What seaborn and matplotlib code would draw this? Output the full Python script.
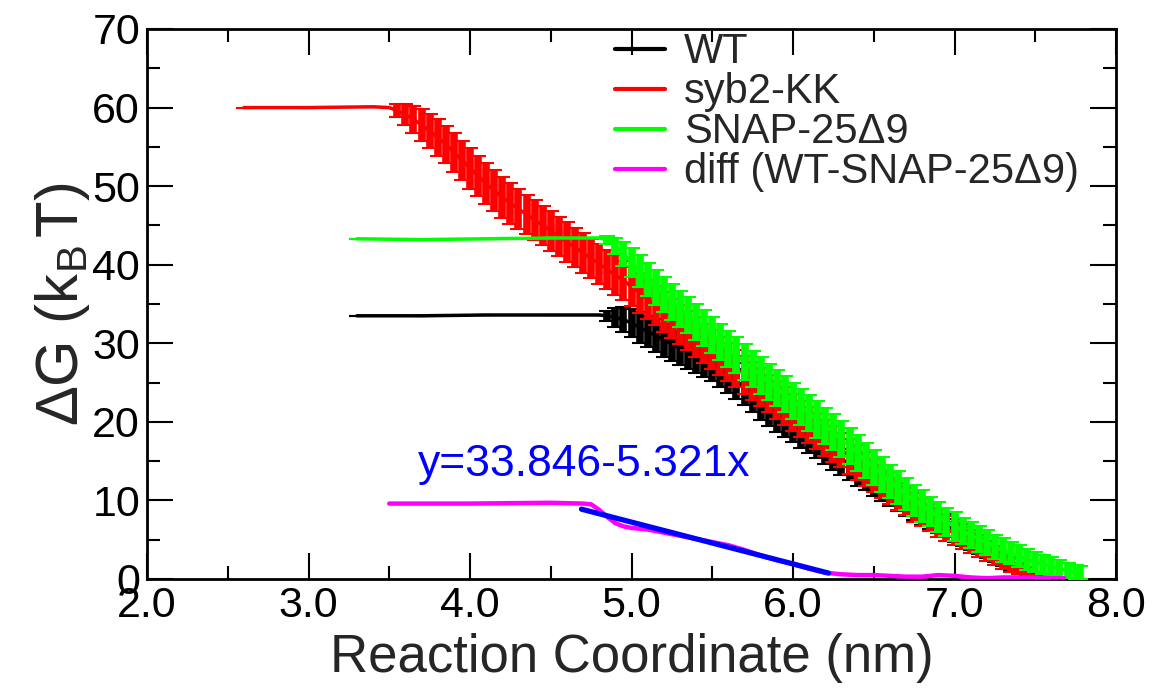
import matplotlib
matplotlib.use("Agg")
import matplotlib.pyplot as plt
import seaborn as sns
from matplotlib.ticker import MultipleLocator, FormatStrFormatter

# ---------------- data ----------------
wt_x = [3.30, 3.70, 4.10, 4.50,
        4.80, 4.85, 4.90, 4.95, 5.00, 5.05, 5.10, 5.15, 5.20, 5.25,
        5.30, 5.35, 5.40, 5.45, 5.50, 5.55, 5.60, 5.65, 5.70, 5.75,
        5.80, 5.85, 5.90, 5.95, 6.00, 6.05, 6.10, 6.15, 6.20, 6.25,
        6.30, 6.35, 6.40, 6.45, 6.50, 6.55, 6.60, 6.65, 6.70, 6.75,
        6.80, 6.85, 6.90, 6.95, 7.00, 7.05, 7.10, 7.15, 7.20, 7.25,
        7.30, 7.35, 7.40, 7.45, 7.50, 7.55]
wt_y = [33.5, 33.5, 33.6, 33.6,
        33.6, 33.5, 33.3, 33.0, 32.6, 32.0, 31.5, 31.0, 30.4, 29.9,
        29.4, 28.9, 28.5, 28.0, 27.5, 26.8, 26.0, 25.2, 24.4, 23.5,
        22.6, 21.8, 21.0, 20.3, 19.6, 18.9, 18.2, 17.5, 16.8, 16.0,
        15.3, 14.6, 13.9, 13.2, 12.5, 11.8, 11.1, 10.4, 9.8, 9.2,
        8.6, 8.0, 7.4, 6.8, 6.2, 5.6, 5.0, 4.4, 3.8, 3.2,
        2.6, 2.0, 1.5, 1.0, 0.5, 0.2]
wt_err = [0, 0, 0, 0,
          0, 0.6, 1.2, 1.6, 1.8, 2.0, 2.0, 2.1, 2.1, 2.2,
          2.2, 2.2, 2.3, 2.3, 2.3, 2.3, 2.3, 2.3, 2.3, 2.3,
          2.3, 2.3, 2.3, 2.2, 2.2, 2.2, 2.2, 2.1, 2.1, 2.1,
          2.0, 2.0, 2.0, 1.9, 1.9, 1.9, 1.8, 1.8, 1.8, 1.7,
          1.7, 1.6, 1.6, 1.5, 1.5, 1.4, 1.3, 1.2, 1.1, 1.0,
          0.9, 0.8, 0.6, 0.5, 0.3, 0.2]

kk_x = [2.60, 3.00, 3.40, 3.50,
        3.55, 3.60, 3.65, 3.70, 3.75, 3.80, 3.85, 3.90, 3.95, 4.00,
        4.05, 4.10, 4.15, 4.20, 4.25, 4.30, 4.35, 4.40, 4.45, 4.50,
        4.55, 4.60, 4.65, 4.70, 4.75, 4.80, 4.85, 4.90, 4.95, 5.00,
        5.05, 5.10, 5.15, 5.20, 5.25, 5.30, 5.35, 5.40, 5.45, 5.50,
        5.55, 5.60, 5.65, 5.70, 5.75, 5.80, 5.85, 5.90, 5.95, 6.00,
        6.05, 6.10, 6.15, 6.20, 6.25, 6.30, 6.35, 6.40, 6.45, 6.50,
        6.55, 6.60, 6.65, 6.70, 6.75, 6.80, 6.85, 6.90, 6.95, 7.00,
        7.05, 7.10, 7.15, 7.20, 7.25, 7.30, 7.35, 7.40, 7.45, 7.50,
        7.55]
kk_y = [60.0, 60.0, 60.1, 60.0,
        59.6, 59.1, 58.5, 57.8, 57.0, 56.2, 55.3, 54.3, 53.3, 52.3,
        51.3, 50.3, 49.4, 48.6, 47.8, 47.1, 46.4, 45.7, 45.0, 44.3,
        43.6, 42.9, 42.2, 41.5, 40.8, 40.1, 39.4, 38.7, 38.0, 37.2,
        36.4, 35.6, 34.8, 34.0, 33.2, 32.4, 31.6, 30.8, 30.0, 29.2,
        28.4, 27.6, 26.8, 26.0, 25.2, 24.4, 23.6, 22.8, 22.0, 21.2,
        20.4, 19.6, 18.8, 18.0, 17.2, 16.4, 15.6, 14.8, 14.0, 13.2,
        12.4, 11.6, 10.8, 10.0, 9.2, 8.5, 7.8, 7.1, 6.4, 5.8,
        5.2, 4.6, 4.0, 3.4, 2.8, 2.2, 1.7, 1.2, 0.7, 0.3,
        0.0]
kk_err = [0, 0, 0, 0,
          0.8, 1.3, 1.7, 2.0, 2.2, 2.3, 2.4, 2.5, 2.5, 2.6,
          2.6, 2.6, 2.6, 2.6, 2.6, 2.5, 2.5, 2.5, 2.5, 2.5,
          2.5, 2.5, 2.5, 2.5, 2.5, 2.5, 2.5, 2.5, 2.5, 2.5,
          2.5, 2.5, 2.5, 2.5, 2.5, 2.5, 2.5, 2.5, 2.5, 2.5,
          2.4, 2.4, 2.4, 2.4, 2.4, 2.4, 2.4, 2.4, 2.4, 2.4,
          2.3, 2.3, 2.3, 2.3, 2.3, 2.2, 2.2, 2.2, 2.2, 2.1,
          2.1, 2.0, 2.0, 1.9, 1.9, 1.8, 1.7, 1.7, 1.6, 1.5,
          1.4, 1.3, 1.2, 1.1, 1.0, 0.9, 0.8, 0.6, 0.4, 0.2,
          0.0]

sn_x = [3.30, 3.70, 4.10, 4.50, 4.80,
        4.85, 4.90, 4.95, 5.00, 5.05, 5.10, 5.15, 5.20, 5.25, 5.30,
        5.35, 5.40, 5.45, 5.50, 5.55, 5.60, 5.65, 5.70, 5.75, 5.80,
        5.85, 5.90, 5.95, 6.00, 6.05, 6.10, 6.15, 6.20, 6.25, 6.30,
        6.35, 6.40, 6.45, 6.50, 6.55, 6.60, 6.65, 6.70, 6.75, 6.80,
        6.85, 6.90, 6.95, 7.00, 7.05, 7.10, 7.15, 7.20, 7.25, 7.30,
        7.35, 7.40, 7.45, 7.50, 7.55, 7.60, 7.65, 7.70, 7.75,
        7.78]
sn_y = [43.3, 43.2, 43.3, 43.4, 43.4,
        43.2, 42.4, 41.4, 40.3, 39.2, 38.1, 37.1, 36.2, 35.3, 34.4,
        33.6, 32.7, 31.9, 31.1, 30.2, 29.3, 28.5, 27.6, 26.7, 25.9,
        25.1, 24.3, 23.5, 22.7, 21.9, 21.1, 20.3, 19.5, 18.7, 17.8,
        16.9, 16.0, 15.1, 14.2, 13.3, 12.4, 11.6, 10.8, 10.0, 9.3,
        8.6, 7.9, 7.3, 6.7, 6.1, 5.6, 5.1, 4.6, 4.1, 3.7,
        3.3, 2.9, 2.5, 2.2, 1.9, 1.6, 1.3, 1.1, 0.9,
        0.8]
sn_err = [0, 0, 0, 0, 0,
          0.5, 1.0, 1.5, 1.8, 2.0, 2.1, 2.2, 2.2, 2.3, 2.3,
          2.3, 2.3, 2.3, 2.3, 2.3, 2.3, 2.3, 2.3, 2.3, 2.3,
          2.3, 2.3, 2.3, 2.3, 2.3, 2.3, 2.3, 2.3, 2.3, 2.3,
          2.3, 2.3, 2.2, 2.2, 2.2, 2.1, 2.1, 2.0, 2.0, 2.0,
          1.9, 1.9, 1.8, 1.8, 1.7, 1.7, 1.6, 1.6, 1.5, 1.5,
          1.4, 1.4, 1.3, 1.3, 1.2, 1.2, 1.1, 1.0, 0.9,
          0.8]

diff_x = [3.50, 4.00, 4.50, 4.70, 4.75, 4.80, 4.85, 4.90, 4.95, 5.00,
          5.10, 5.20, 5.30, 5.40, 5.50, 5.60, 5.70, 5.80, 5.90, 6.00,
          6.10, 6.20, 6.30, 6.40, 6.50, 6.60, 6.70, 6.80, 6.90, 7.00,
          7.10, 7.20, 7.30, 7.40, 7.50, 7.60, 7.68]
diff_y = [9.6, 9.6, 9.7, 9.6, 9.5, 8.8, 7.9, 7.1, 6.7, 6.5,
          6.3, 5.9, 5.5, 5.1, 4.7, 4.3, 3.7, 3.0, 2.4, 1.9,
          1.3, 0.8, 0.6, 0.5, 0.5, 0.4, 0.3, 0.3, 0.5, 0.4,
          0.2, 0.1, 0.2, 0.2, 0.2, 0.1, 0.1]

fit_x = [4.69, 6.22]
fit_y = [8.89, 0.75]
fit_label = "y=33.846-5.321x"

series_names = ["WT", "syb2-KK", "SNAP-25\u03949", "diff (WT-SNAP-25\u03949)"]
series_colors = ["#000000", "#ff0000", "#00ff00", "#ff00ff"]

x_ticks = [2, 3, 4, 5, 6, 7, 8]
y_ticks = [0, 10, 20, 30, 40, 50, 60, 70]

# ---------------- style ----------------
sns.set_theme(style="ticks")
plt.rcParams["font.family"] = ["Liberation Sans", "DejaVu Sans"]
plt.rcParams["mathtext.fontset"] = "custom"
plt.rcParams["mathtext.rm"] = "Liberation Sans"
plt.rcParams["mathtext.it"] = "Liberation Sans:italic"
plt.rcParams["axes.linewidth"] = 2.0

fig = plt.figure(figsize=(11.57, 6.92), dpi=100)
ax = fig.add_axes([147 / 1157, 1 - 579 / 692, (1116 - 147) / 1157, 550 / 692])

err_sets = [(wt_x, wt_y, wt_err), (kk_x, kk_y, kk_err), (sn_x, sn_y, sn_err)]
for i, (xs, ys, es) in enumerate(err_sets):
    ax.errorbar(xs, ys, yerr=es, fmt="none", ecolor=series_colors[i],
                elinewidth=5.5, capsize=5.5, capthick=1.5, zorder=2 + i)
    sns.lineplot(x=xs, y=ys, color=series_colors[i], linewidth=2.5,
                 sort=False, estimator=None, label=series_names[i], ax=ax,
                 zorder=2 + i)

sns.lineplot(x=diff_x, y=diff_y, color=series_colors[3], linewidth=3.2,
             sort=False, estimator=None, label=series_names[3], ax=ax, zorder=6)
sns.lineplot(x=fit_x, y=fit_y, color="#0000ff", linewidth=3.8,
             sort=False, estimator=None, ax=ax, zorder=7, legend=False)
ax.text(3.68, 14.6, fit_label, color="#0000ff", fontsize=32,
        ha="left", va="center")

ax.set_xlim(2, 8)
ax.set_ylim(0, 70)
ax.set_xticks(x_ticks)
ax.set_yticks(y_ticks)
ax.xaxis.set_minor_locator(MultipleLocator(0.5))
ax.yaxis.set_minor_locator(MultipleLocator(5))
ax.xaxis.set_major_formatter(FormatStrFormatter("%.1f"))
ax.tick_params(which="both", direction="in", top=True, right=True,
               width=1.5, colors="black", labelsize=31)
ax.tick_params(which="major", length=19)
ax.tick_params(which="minor", length=9.5)
ax.tick_params(axis="x", pad=5)
ax.tick_params(axis="y", pad=5)
for s in ax.spines.values():
    s.set_visible(True)
    s.set_color("black")
    s.set_linewidth(2.0)

ax.set_xlabel("Reaction Coordinate (nm)", fontsize=38, labelpad=5)
ax.set_ylabel(r"$\mathrm{\Delta G\ (k_{B\,}T)}$", fontsize=43, labelpad=0)

handles, labels = ax.get_legend_handles_labels()
leg = ax.legend(handles, labels, loc="upper left", bbox_to_anchor=(0.483, 0.994),
                frameon=False, fontsize=30, handlelength=1.2,
                handletextpad=0.45, labelspacing=0.0, borderpad=0.0,
                borderaxespad=0.0)
for ln in leg.get_lines():
    ln.set_linewidth(3)

fig.savefig("out.png", dpi=100)
